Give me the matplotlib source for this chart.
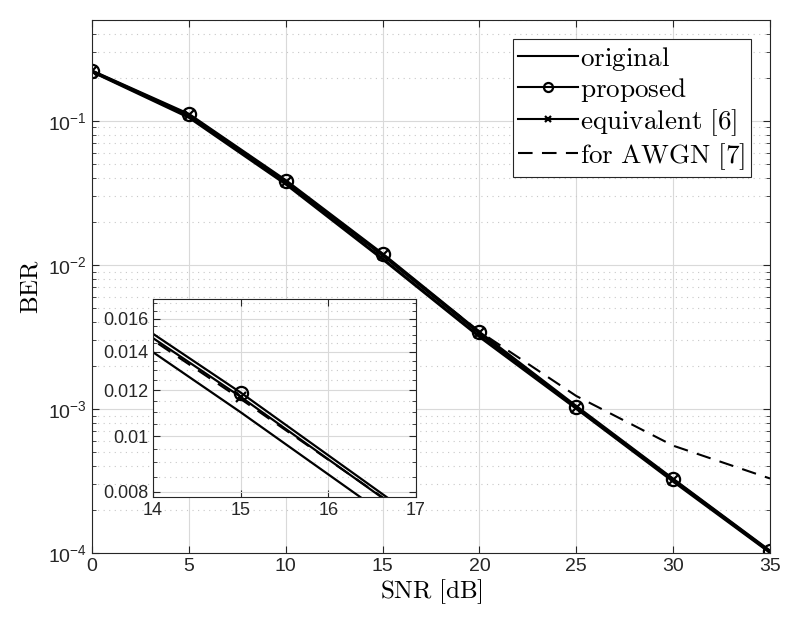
import numpy as np
import matplotlib.pyplot as plt
from matplotlib.ticker import FixedLocator, NullFormatter, FixedFormatter, LogLocator

plt.rcParams['font.family'] = ['Liberation Sans', 'DejaVu Sans']
plt.rcParams['mathtext.fontset'] = 'cm'

snr = [0, 5, 10, 15, 20, 25, 30, 35]
ber_original = [0.220, 0.106, 0.0365, 0.0110, 0.00318, 0.00101, 0.000315, 0.000101]
ber_proposed = [0.222, 0.111, 0.0385, 0.0119, 0.00340, 0.00104, 0.000325, 0.000103]
ber_equivalent = [0.221, 0.109, 0.0378, 0.0117, 0.00336, 0.00102, 0.000322, 0.000102]
ber_awgn = [0.221, 0.108, 0.0375, 0.0116, 0.00345, 0.00123, 0.000556, 0.000329]

inset_yticks = [0.008, 0.01, 0.012, 0.014, 0.016]
inset_ylabels = ['0.008', '0.01', '0.012', '0.014', '0.016']

axcol = '#262626'
gridcol = '#d9d9d9'


def draw(ax, lw, ms):
    ax.plot(snr, ber_original, color='black', lw=lw, label=r'$\mathrm{original}$')
    ax.plot(snr, ber_proposed, color='black', lw=lw, marker='o', ms=ms, mfc='none', mew=1.6,
            label=r'$\mathrm{proposed}$')
    ax.plot(snr, ber_equivalent, color='black', lw=lw, marker='x', ms=ms * 0.7, mew=1.6,
            label=r'$\mathrm{equivalent\ [6]}$')
    ax.plot(snr, ber_awgn, color='black', lw=1.5, ls=(0, (7, 4.5)), label=r'$\mathrm{for\ AWGN\ [7]}$')


def style(ax, fs):
    for s in ax.spines.values():
        s.set_color(axcol)
        s.set_linewidth(0.8)
    ax.tick_params(which='both', direction='in', top=True, right=True, colors=axcol,
                   labelsize=fs, labelcolor='#262626')
    ax.tick_params(which='major', length=5)
    ax.tick_params(which='minor', length=3)


fig = plt.figure(figsize=(7.89, 6.31), dpi=100)
ax = fig.add_axes([0.1166, 0.1236, 0.8594, 0.8444])
draw(ax, 2.2, 9.5)
ax.set_yscale('log')
ax.set_xlim(0, 35)
ax.set_ylim(1e-4, 0.5)
ax.set_xticks(np.arange(0, 36, 5))
ax.yaxis.set_major_locator(LogLocator(base=10, numticks=10))
ax.yaxis.set_minor_locator(LogLocator(base=10, subs=np.arange(2, 10), numticks=20))
ax.grid(True, which='major', color=gridcol, lw=0.8)
ax.grid(True, which='minor', axis='y', color='#c8c8c8', lw=0.8, ls=(0, (1, 4)))
ax.set_axisbelow(True)
style(ax, 14)
ax.set_xlabel(r'$\mathrm{SNR\ [dB]}$', fontsize=18, labelpad=2)
ax.set_ylabel(r'$\mathrm{BER}$', fontsize=18, labelpad=4)

leg = ax.legend(loc='upper right', fontsize=19.5, numpoints=1, handlelength=2.2,
                handletextpad=0.1, borderpad=0.2, labelspacing=0.12, fancybox=False,
                framealpha=1, edgecolor=axcol, borderaxespad=0.7)
leg.get_frame().set_linewidth(0.8)
for h in leg.legend_handles:
    h.set_linewidth(1.5)
    h.set_markersize(6.5 if h.get_marker() == 'o' else 5)

ins = fig.add_axes([0.194, 0.2124, 0.333, 0.3138])
ins.set_facecolor('white')
draw(ins, 1.6, 9.5)
ins.set_yscale('log')
ins.set_xlim(14, 17)
ins.set_ylim(0.00784, 0.0173)
ins.set_xticks([14, 15, 16, 17])
ins.yaxis.set_major_locator(FixedLocator(inset_yticks))
ins.yaxis.set_major_formatter(FixedFormatter(inset_ylabels))
ins.yaxis.set_minor_locator(FixedLocator(np.arange(0.008, 0.0175, 0.0005)))
ins.yaxis.set_minor_formatter(NullFormatter())
ins.grid(True, which='major', color=gridcol, lw=0.8)
ins.grid(True, which='minor', axis='y', color='#c8c8c8', lw=0.8, ls=(0, (1, 4)))
ins.set_axisbelow(True)
style(ins, 13)

fig.savefig('out.png', dpi=100)
